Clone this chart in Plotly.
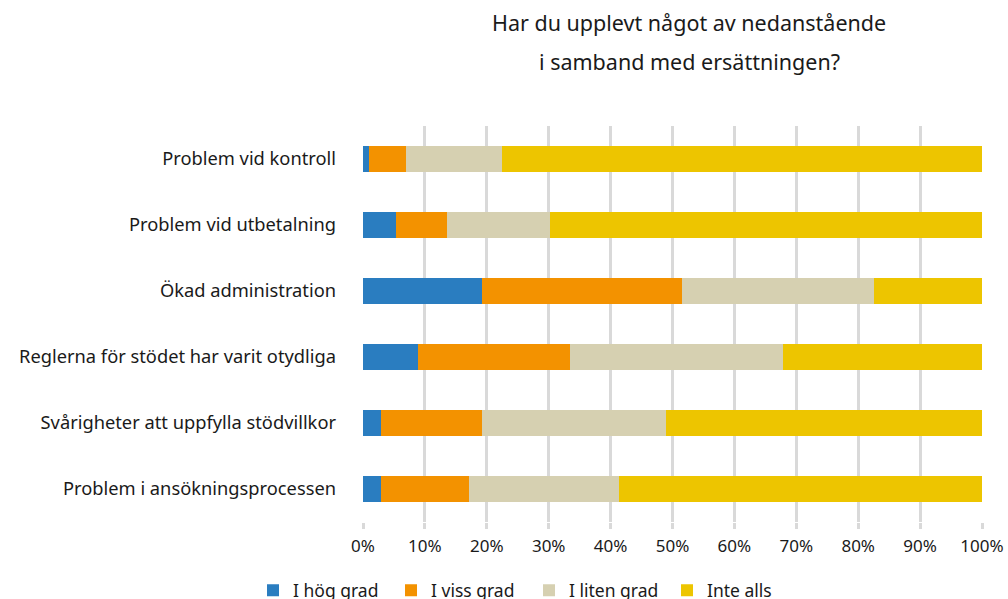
import plotly.graph_objects as go

categories = [
    "Problem vid kontroll",
    "Problem vid utbetalning",
    "Ökad administration",
    "Reglerna för stödet har varit otydliga",
    "Svårigheter att uppfylla stödvillkor",
    "Problem i ansökningsprocessen",
]
series_names = ["I hög grad", "I viss grad", "I liten grad", "Inte alls"]
hog = [1.0, 5.3, 19.2, 8.9, 2.9, 2.9]
viss = [5.9, 8.3, 32.3, 24.5, 16.3, 14.2]
liten = [15.5, 16.6, 31.0, 34.5, 29.7, 24.3]
inte = [77.6, 69.8, 17.5, 32.1, 51.1, 58.6]
tick_vals = [0, 10, 20, 30, 40, 50, 60, 70, 80, 90, 100]
tick_text = [f"{v}%" for v in tick_vals]

colors = ["#2A7DC0", "#F39200", "#D6D0B1", "#EDC500"]
font = "Noto Sans"

W, H = 1008, 599
ML, MR, MT, MB = 363, 26, 126, 77

fig = go.Figure()
for name, vals, col in zip(series_names, [hog, viss, liten, inte], colors):
    fig.add_trace(go.Bar(
        y=categories, x=vals, name=name, orientation="h",
        marker=dict(color=col, line=dict(width=0)),
    ))

fig.update_layout(
    barmode="stack",
    bargap=0.62,
    width=W, height=H,
    paper_bgcolor="white", plot_bgcolor="white",
    margin=dict(l=ML, r=MR, t=MT, b=MB, autoexpand=False),
    font=dict(family=font, size=18, color="#1a1a1a"),
    showlegend=True,
    legend=dict(orientation="h", xref="container", x=0.251, xanchor="left",
                yref="paper", y=-0.127, yanchor="top",
                font=dict(size=17.5), traceorder="normal", itemwidth=30,
                entrywidth=93),
    xaxis=dict(range=[0, 100], tickvals=tick_vals, ticktext=tick_text,
               showgrid=True, gridcolor="#d9d9d9", gridwidth=2.5,
               zeroline=False, showline=False, automargin=False,
               ticks="outside", ticklen=6, tickcolor="#d9d9d9", tickwidth=2.5,
               ticklabelstandoff=3, tickfont=dict(size=17)),
    yaxis=dict(autorange="reversed", showgrid=False, ticks="", automargin=False,
               ticklabelstandoff=26, tickfont=dict(size=18.3)),
)
ph = H - MT - MB
for txt, ypx in [("Har du upplevt något av nedanstående", 22),
                 ("i samband med ersättningen?", 61)]:
    fig.add_annotation(text=txt, x=0.527, xref="paper",
                       y=(H - MB - ypx) / ph, yref="paper", yanchor="middle",
                       showarrow=False, font=dict(size=21.5))

fig.write_html("out.html", config={"displayModeBar": False},
               post_script="document.body.style.margin='0';")
